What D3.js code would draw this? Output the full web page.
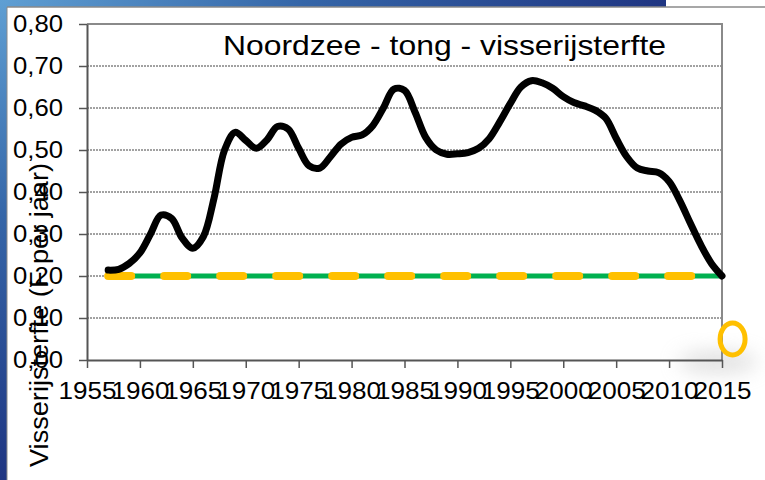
<!DOCTYPE html>
<html>
<head>
<meta charset="utf-8">
<script src="https://cdn.jsdelivr.net/npm/d3@7"></script>
<style>
  body { margin: 0; background: #fff; }
  svg { display: block; font-family: "Liberation Sans", Arial, sans-serif; }
</style>
</head>
<body>
<div id="chart"></div>
<script>
// Data
const years = d3.range(1957, 2016);
const fishingMortality = [
  0.214, 0.216, 0.230, 0.255, 0.300, 0.345, 0.337, 0.290, 0.266, 0.294,
  0.385, 0.500, 0.542, 0.523, 0.504, 0.524, 0.556, 0.550, 0.504, 0.462,
  0.457, 0.484, 0.514, 0.530, 0.536, 0.558, 0.600, 0.645, 0.642, 0.590,
  0.530, 0.500, 0.490, 0.491, 0.494, 0.504, 0.527, 0.567, 0.611, 0.650,
  0.665, 0.660, 0.647, 0.627, 0.613, 0.605, 0.595, 0.576, 0.528, 0.484,
  0.457, 0.450, 0.446, 0.425, 0.380, 0.326, 0.274, 0.230, 0.200
];
const refYears = [1957, 2015];
const greenRef = [0.20, 0.20];
const orangeRef = [0.20, 0.20];
const markerYears = [2016];
const markerValues = [0.05];
const yTicks = [0, 0.1, 0.2, 0.3, 0.4, 0.5, 0.6, 0.7, 0.8];
const xTicks = d3.range(1955, 2020, 5);

const width = 765, height = 480;
const margin = {top: 24, right: 43, bottom: 120, left: 87};

const svg = d3.select('#chart')
    .append('svg')
    .attr('width', width)
    .attr('height', height);

// Background: blue slide texture on the left/top, white panel
const defs = svg.append('defs');
const grad = defs.append('radialGradient')
    .attr('id', 'bg')
    .attr('cx', 0).attr('cy', 0).attr('r', 1);
grad.append('stop').attr('offset', 0).attr('stop-color', '#5f9fd3');
grad.append('stop').attr('offset', 0.45).attr('stop-color', '#3566a8');
grad.append('stop').attr('offset', 1).attr('stop-color', '#1f3582');
defs.append('filter').attr('id', 'blur')
    .attr('x', -1).attr('y', -1).attr('width', 3).attr('height', 3)
    .append('feGaussianBlur').attr('stdDeviation', 10);

svg.append('rect').attr('width', width).attr('height', height).attr('fill', '#fff');
svg.append('rect').attr('width', 666).attr('height', height).attr('fill', 'url(#bg)');
svg.append('rect')
    .attr('x', 7).attr('y', 7)
    .attr('width', width - 7).attr('height', height - 7)
    .attr('fill', '#fff');
svg.append('line')
    .attr('x1', 7).attr('x2', width).attr('y1', 7).attr('y2', 7)
    .attr('stroke', '#8a8a8a').attr('stroke-width', 1.5);
svg.append('line')
    .attr('x1', 7).attr('x2', 7).attr('y1', 7).attr('y2', height)
    .attr('stroke', '#8a8a8a').attr('stroke-width', 1);

// soft shadow at bottom right of the plot
svg.append('ellipse')
    .attr('cx', 718).attr('cy', 362).attr('rx', 40).attr('ry', 10)
    .attr('fill', '#bbb').attr('opacity', 0.5)
    .attr('filter', 'url(#blur)');

const x = d3.scaleLinear()
    .domain([1955, 2015])
    .range([margin.left, width - margin.right]);
const y = d3.scaleLinear()
    .domain([0, 0.8])
    .range([height - margin.bottom, margin.top]);

// Gridlines
svg.append('g')
    .selectAll('line')
    .data(yTicks.slice(1, -1))
    .enter()
    .append('line')
    .attr('x1', x(1955)).attr('x2', x(2015))
    .attr('y1', d => y(d)).attr('y2', d => y(d))
    .attr('stroke', '#444')
    .attr('stroke-width', 1)
    .attr('stroke-dasharray', '2,1');

// Plot frame (top and right)
svg.append('path')
    .attr('d', `M${x(1955)},${y(0.8)}H${x(2015)}V${y(0)}`)
    .attr('fill', 'none')
    .attr('stroke', '#8a8a8a')
    .attr('stroke-width', 2);

// Axes
const fmt = d => d3.format('.2f')(d).replace('.', ',');
const yAxis = svg.append('g')
    .attr('transform', `translate(${margin.left},0)`)
    .call(d3.axisLeft(y).tickValues(yTicks).tickFormat(fmt).tickSize(8).tickSizeOuter(0).tickPadding(16));
const xAxis = svg.append('g')
    .attr('transform', `translate(0,${height - margin.bottom})`)
    .call(d3.axisBottom(x).tickValues(xTicks).tickFormat(d3.format('d')).tickSize(8).tickSizeOuter(0).tickPadding(14));
[yAxis, xAxis].forEach(a => {
    a.select('.domain').attr('stroke', '#555').attr('stroke-width', 2);
    a.selectAll('.tick line').attr('stroke', '#555').attr('stroke-width', 1.5);
    a.selectAll('text')
        .attr('font-family', '"Liberation Sans", Arial, sans-serif')
        .attr('font-size', '24px')
        .attr('fill', '#000');
});
// the original picture is slightly stretched horizontally
yAxis.selectAll('text').attr('textLength', 50).attr('lengthAdjust', 'spacingAndGlyphs');
xAxis.selectAll('text').attr('textLength', 58).attr('lengthAdjust', 'spacingAndGlyphs');

// Reference lines
const refLine = d3.line()
    .x((d, i) => x(refYears[i]))
    .y(d => y(d));
svg.append('path')
    .datum(greenRef)
    .attr('fill', 'none')
    .attr('stroke', '#00b050')
    .attr('stroke-width', 5)
    .attr('d', refLine);
svg.append('path')
    .datum(orangeRef)
    .attr('fill', 'none')
    .attr('stroke', '#ffc000')
    .attr('stroke-width', 8)
    .attr('stroke-linecap', 'round')
    .attr('stroke-dasharray', '23,33')
    .attr('d', refLine);

// Fishing mortality line
const line = d3.line()
    .x((d, i) => x(years[i]))
    .y(d => y(d))
    .curve(d3.curveCatmullRom.alpha(0.5));
svg.append('path')
    .datum(fishingMortality)
    .attr('fill', 'none')
    .attr('stroke', '#000')
    .attr('stroke-width', 7)
    .attr('stroke-linejoin', 'round')
    .attr('stroke-linecap', 'round')
    .attr('d', line);

// Target marker
svg.selectAll('.marker')
    .data(markerValues)
    .enter()
    .append('ellipse')
    .attr('class', 'marker')
    .attr('cx', (d, i) => x(markerYears[i]))
    .attr('cy', d => y(d))
    .attr('rx', 12.5)
    .attr('ry', 16)
    .attr('fill', 'none')
    .attr('stroke', '#ffc000')
    .attr('stroke-width', 5);

// Title
svg.append('text')
    .attr('x', 223)
    .attr('y', 55)
    .attr('font-size', '28px')
    .attr('fill', '#000')
    .attr('textLength', 443)
    .attr('lengthAdjust', 'spacingAndGlyphs')
    .text('Noordzee - tong - visserijsterfte');

// Y axis label
svg.append('text')
    .attr('transform', 'translate(48,315) rotate(-90)')
    .attr('text-anchor', 'middle')
    .attr('font-size', '25px')
    .attr('fill', '#000')
    .attr('textLength', 304)
    .attr('lengthAdjust', 'spacingAndGlyphs')
    .text('Visserijsterfte (F per jaar)');
</script>
</body>
</html>
